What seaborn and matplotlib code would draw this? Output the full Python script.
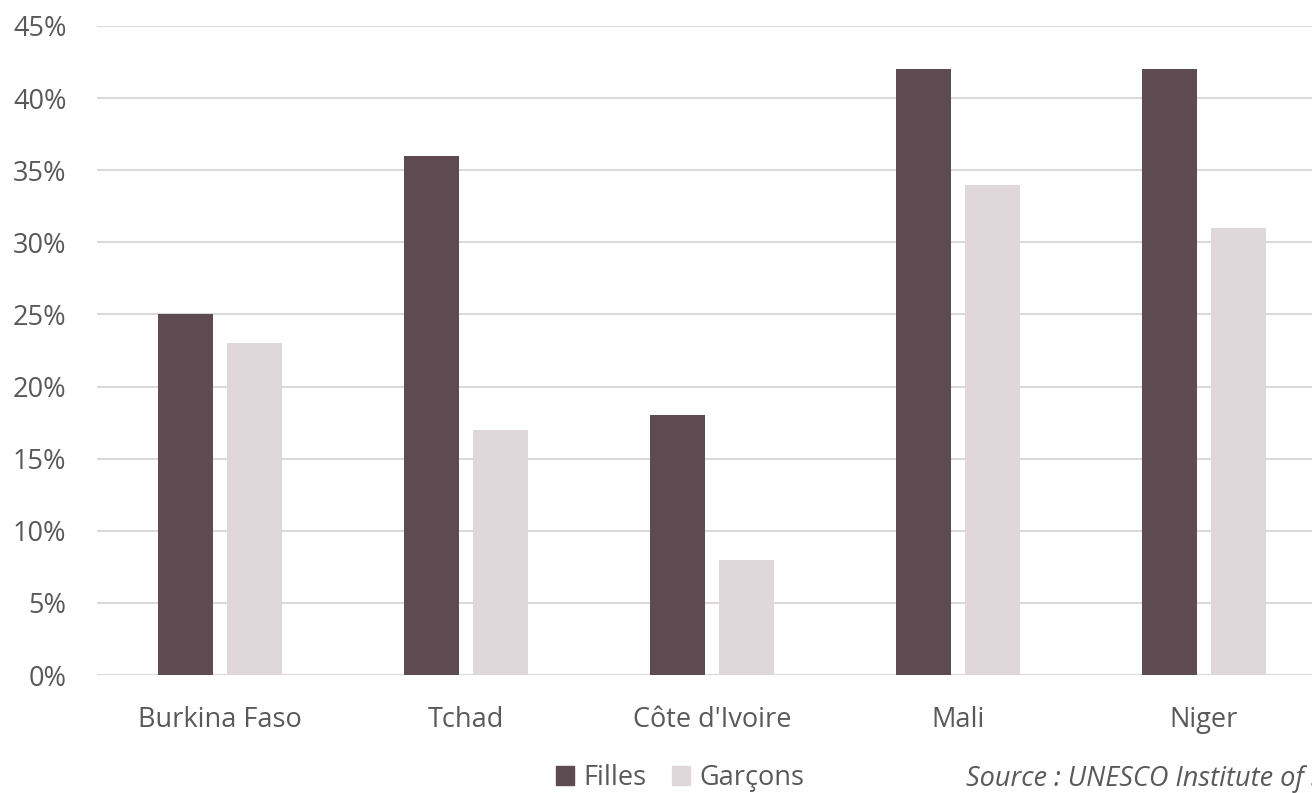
import matplotlib
matplotlib.use("Agg")
import matplotlib.pyplot as plt
import matplotlib.patches as mpatches
from matplotlib.ticker import FuncFormatter, MultipleLocator
import seaborn as sns
import pandas as pd

countries = ["Burkina Faso", "Tchad", "Côte d'Ivoire", "Mali", "Niger"]
filles = [25, 36, 18, 42, 42]
garcons = [23, 17, 8, 34, 31]
series_names = ["Filles", "Garçons"]
colors = ["#5E4A51", "#E0D7DA"]

df = pd.DataFrame({
    "pays": countries * 2,
    "valeur": filles + garcons,
    "sexe": [series_names[0]] * len(countries) + [series_names[1]] * len(countries),
})

sns.set_theme(style="white")
plt.rcParams["font.family"] = ["Open Sans", "DejaVu Sans"]
text_color = "#595959"
fs = 19.5

W, H = 1312, 793
fig = plt.figure(figsize=(W / 100, H / 100), dpi=100)
left, right, bottom, top = 97, 1327, 675, 26
ax = fig.add_axes([left / W, (H - bottom) / H, (right - left) / W, (bottom - top) / H])

sns.barplot(data=df, x="pays", y="valeur", hue="sexe", palette=colors,
            width=0.569, gap=0.214, ax=ax, legend=False, saturation=1,
            linewidth=0, edgecolor="none")

ax.set_ylim(0, 45)
ax.set_xlim(-0.5, len(countries) - 0.5)
ax.yaxis.set_major_locator(MultipleLocator(5))
ax.yaxis.set_major_formatter(FuncFormatter(lambda v, p: f"{v:.0f}%"))
ax.grid(axis="y", color="#D9D9D9", linewidth=1.5)
ax.set_axisbelow(True)
for s in ax.spines.values():
    s.set_visible(False)
ax.set_xlabel("")
ax.set_ylabel("")
ax.tick_params(axis="both", length=0, labelsize=fs, labelcolor=text_color)
ax.tick_params(axis="y", pad=22)
ax.tick_params(axis="x", pad=22.5)

handles = [mpatches.Patch(color=c, label=n) for c, n in zip(colors, series_names)]
fig.legend(handles=handles, loc="center", bbox_to_anchor=(680 / W, 1 - 778 / H),
           ncol=2, frameon=False, fontsize=fs, labelcolor=text_color,
           handlelength=0.65, handleheight=0.65, handletextpad=0.35, columnspacing=0.95)

fig.text(966 / W, 1 - 779 / H, "Source : UNESCO Institute of Statistics",
         fontsize=fs, style="italic", color=text_color, va="center", ha="left")

fig.savefig("out.png", dpi=100)
